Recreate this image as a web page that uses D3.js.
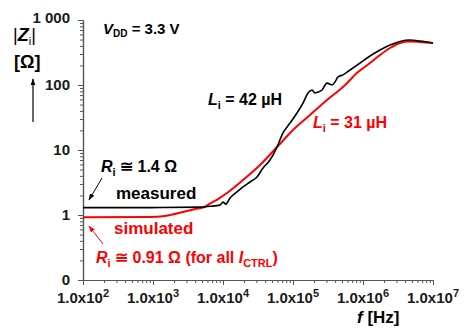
<!DOCTYPE html>
<html><head><meta charset="utf-8">
<script src="https://cdn.jsdelivr.net/npm/d3@7"></script>
<style>
body{margin:0;background:#fff;}
svg{display:block;font-family:"Liberation Sans",Arial,sans-serif;font-weight:bold;}
</style></head>
<body><svg id="c" width="464" height="333"></svg>
<script>
// data
const measuredF = [100, 906, 4700, 6500, 9060, 10000, 11000, 12600, 15800, 19300, 24300, 30600, 37300, 46900, 59100, 71900, 90600, 114000, 139000, 164000, 187000, 206000, 228000, 260000, 306000, 361000, 398000, 439000, 518000, 652000, 906000, 1260000, 1750000, 2430000, 3380000, 4690000, 6500000, 10000000];
const measuredZ = [1.3, 1.3, 1.32, 1.36, 1.42, 1.58, 1.47, 1.83, 2.26, 2.7, 3.22, 3.84, 5.28, 7.02, 11.1, 18.3, 26.0, 37.1, 52.8, 75.3, 83.8, 75.3, 78.0, 83.8, 107, 100, 111, 133, 143, 170, 218, 279, 345, 412, 467, 492, 475, 443];
const simulatedF = [100, 906, 1480, 2680, 3980, 5180, 6520, 8480, 11400, 19300, 33800, 59100, 100000, 175000, 306000, 518000, 849000, 1260000, 1750000, 2430000, 3380000, 4690000, 6500000, 10000000];
const simulatedZ = [0.92, 0.93, 0.966, 1.11, 1.24, 1.3, 1.5, 1.76, 2.18, 3.45, 5.88, 11.1, 20.3, 34.5, 58.8, 93.1, 158, 218, 289, 371, 443, 467, 459, 443];
const xTicks = [1e2, 1e3, 1e4, 1e5, 1e6, 1e7];
const xTickExp = ["2", "3", "4", "5", "6", "7"];
const yTicks = [0.1, 1, 10, 100, 1000];
const yTickLabels = ["0", "1", "10", "100", "1 000"];

const svg = d3.select("#c");
const x = d3.scaleLog().domain([1e2, 1e7]).range([83, 433]);
const y = d3.scaleLog().domain([0.1, 1000]).range([280, 20]);

const defs = svg.append("defs");
function marker(id, col){
  defs.append("marker").attr("id", id).attr("viewBox", "0 0 10 10").attr("refX", 9).attr("refY", 5)
    .attr("markerWidth", 7).attr("markerHeight", 7).attr("markerUnits", "userSpaceOnUse").attr("orient", "auto")
    .append("path").attr("d", "M0,1.5 L10,5 L0,8.5 Z").attr("fill", col);
}
marker("ak", "#000"); marker("ar", "#f00");

// minor tick values
const minorX = [], minorY = [];
for (let d = 2; d < 7; d++) for (let m = 2; m <= 9; m++) minorX.push(m * Math.pow(10, d));
for (let d = -1; d < 3; d++) for (let m = 2; m <= 9; m++) minorY.push(m * Math.pow(10, d));

// axes
const gx = svg.append("g").attr("transform", "translate(0,280)");
gx.call(d3.axisBottom(x).tickValues(xTicks).tickSize(5).tickSizeOuter(0).tickFormat(""));
gx.append("g").call(d3.axisBottom(x).tickValues(minorX).tickSize(3).tickSizeOuter(0).tickFormat(""));
const gy = svg.append("g").attr("transform", "translate(83,0)");
gy.call(d3.axisLeft(y).tickValues(yTicks).tickSize(5).tickSizeOuter(0).tickFormat(""));
gy.append("g").call(d3.axisLeft(y).tickValues(minorY).tickSize(3).tickSizeOuter(0).tickFormat(""));
svg.selectAll(".domain").attr("stroke", "#555").attr("stroke-width", 1.2);
svg.selectAll(".tick line").attr("stroke", "#555");

// tick labels
xTicks.forEach((v, i) => {
  const t = svg.append("text").attr("x", x(v)).attr("y", 303).attr("text-anchor", "middle")
    .attr("font-size", 15).attr("fill", "#1a1a1a");
  t.append("tspan").text("1.0x10");
  t.append("tspan").attr("dy", -6).attr("font-size", 11).text(xTickExp[i]);
});
yTicks.forEach((v, i) => {
  svg.append("text").attr("x", 70).attr("y", y(v) + (i === 4 ? 3 : 5)).attr("text-anchor", "end")
    .attr("font-size", 15).attr("fill", "#1a1a1a").text(yTickLabels[i]);
});

// lines
const line = d3.line().x(d => x(d[0])).y(d => y(d[1])).curve(d3.curveMonotoneX);
svg.append("path").datum(simulatedF.map((f, i) => [f, simulatedZ[i]])).attr("d", line)
  .attr("fill", "none").attr("stroke", "#ff0000").attr("stroke-width", 2);
svg.append("path").datum(measuredF.map((f, i) => [f, measuredZ[i]])).attr("d", line)
  .attr("fill", "none").attr("stroke", "#000").attr("stroke-width", 1.6);

// axis titles
const zt = svg.append("text").attr("x", 13).attr("y", 41).attr("font-size", 18).attr("font-weight", "normal");
zt.append("tspan").text("|");
zt.append("tspan").attr("font-style", "italic").attr("font-weight", "bold").text("Z");
zt.append("tspan").attr("font-size", 11).attr("dy", 4).text("i");
zt.append("tspan").attr("dy", -4).text("|");
svg.append("text").attr("x", 14).attr("y", 68).attr("font-size", 18).text("[Ω]");
svg.append("line").attr("x1", 33).attr("y1", 122).attr("x2", 33).attr("y2", 79)
  .attr("stroke", "#000").attr("stroke-width", 1.2).attr("marker-end", "url(#ak)");

const ft = svg.append("text").attr("x", 357).attr("y", 323).attr("font-size", 17);
ft.append("tspan").attr("font-style", "italic").text("f");
ft.append("tspan").text(" [Hz]");

// annotations
const vt = svg.append("text").attr("x", 103).attr("y", 34).attr("font-size", 15);
vt.append("tspan").attr("font-style", "italic").text("V");
vt.append("tspan").attr("font-size", 10).attr("dy", 3).text("DD");
vt.append("tspan").attr("dy", -3).text(" = 3.3 V");

function lab(xp, yp, val, col){
  const t = svg.append("text").attr("x", xp).attr("y", yp).attr("font-size", 16).attr("fill", col);
  t.append("tspan").attr("font-style", "italic").text("L");
  t.append("tspan").attr("font-size", 11).attr("dy", 4).text("i");
  t.append("tspan").attr("dy", -4).text(" = " + val + " µH");
}
lab(208, 105, "42", "#000");
lab(313, 128, "31", "#ff0000");

const r1 = svg.append("text").attr("x", 101).attr("y", 172).attr("font-size", 16).attr("fill", "#000");
r1.append("tspan").attr("font-style", "italic").text("R");
r1.append("tspan").attr("font-size", 11).attr("dy", 4).text("i");
r1.append("tspan").attr("dy", -4).text(" ≅ 1.4 Ω");
svg.append("text").attr("x", 116).attr("y", 199).attr("font-size", 17).text("measured");
svg.append("text").attr("x", 114).attr("y", 234).attr("font-size", 17).attr("fill", "#ff0000").text("simulated");
const r2 = svg.append("text").attr("x", 96).attr("y", 263).attr("font-size", 16).attr("fill", "#ff0000");
r2.append("tspan").attr("font-style", "italic").text("R");
r2.append("tspan").attr("font-size", 11).attr("dy", 4).text("i");
r2.append("tspan").attr("dy", -4).text(" ≅ 0.91 Ω (for all ");
r2.append("tspan").attr("font-style", "italic").text("I");
r2.append("tspan").attr("font-size", 11).attr("dy", 4).text("CTRL");
r2.append("tspan").attr("dy", -4).text(")");

svg.append("line").attr("x1", 102).attr("y1", 178).attr("x2", 89).attr("y2", 200)
  .attr("stroke", "#000").attr("stroke-width", 1).attr("marker-end", "url(#ak)");
svg.append("line").attr("x1", 103).attr("y1", 244).attr("x2", 89).attr("y2", 226)
  .attr("stroke", "#ff0000").attr("stroke-width", 1).attr("marker-end", "url(#ar)");
</script></body></html>
